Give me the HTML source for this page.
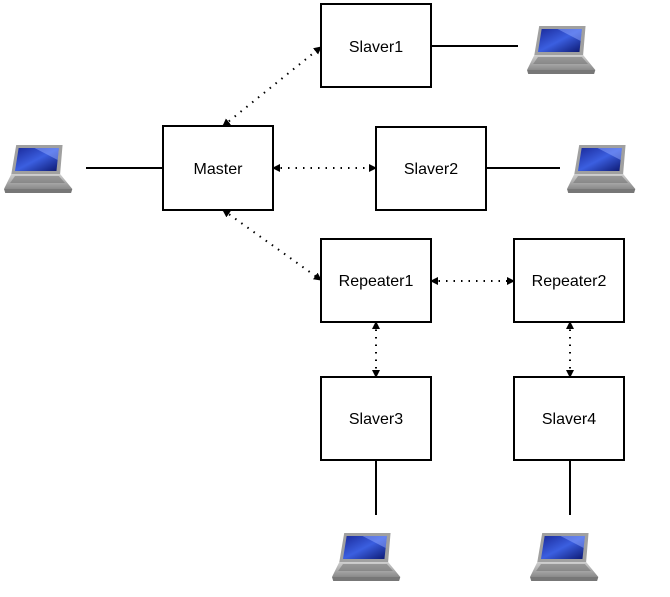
<!DOCTYPE html>
<html><head><style>
body{margin:0;background:#fff;width:670px;height:592px;overflow:hidden;font-family:"Liberation Sans",sans-serif}
</style></head><body>
<svg width="670" height="592" xmlns="http://www.w3.org/2000/svg">
<defs>
<marker id="a" markerWidth="8" markerHeight="8" refX="7" refY="4" orient="auto-start-reverse" markerUnits="userSpaceOnUse"><path d="M0,0 L8,4 L0,8z" fill="#000"/></marker>
<linearGradient id="scr" x1="0" y1="0" x2="1" y2="1"><stop offset="0" stop-color="#1a2a9a"/><stop offset="0.5" stop-color="#3b5fe0"/><stop offset="1" stop-color="#0c1870"/></linearGradient>
<linearGradient id="base" x1="0" y1="0" x2="0" y2="1"><stop offset="0" stop-color="#d0d0d0"/><stop offset="1" stop-color="#8a8a8a"/></linearGradient>
<g id="lap">
<g transform="scale(1.22,1)">
<path d="M10,0 L48,0 L46,29 L6,29 Z" fill="#a0a0a0"/>
<path d="M12,3 L45,3 L43,26 L9,26 Z" fill="url(#scr)"/>
<path d="M25,3 L45,3 L44,15 Z" fill="#8fa8ff" opacity="0.5"/>
<path d="M6,29 L46,29 L56,44 L0,44 Z" fill="url(#base)"/>
<path d="M9,31 L45,31 L50,38 L5,38 Z" fill="#6a6a6a" opacity="0.5"/>
<path d="M0,44 L56,44 L55,48 L1,48 Z" fill="#777"/>
</g>
</g>
</defs>
<g fill="#fff" stroke="#000" stroke-width="2">
<rect x="163" y="126" width="110" height="84"/>
<rect x="321" y="4" width="110" height="83"/>
<rect x="376" y="127" width="110" height="83"/>
<rect x="321" y="239" width="110" height="83"/>
<rect x="514" y="239" width="110" height="83"/>
<rect x="321" y="377" width="110" height="83"/>
<rect x="514" y="377" width="110" height="83"/>
</g>
<g font-size="16" text-anchor="middle" fill="#000">
<text x="218" y="174">Master</text>
<text x="376" y="52">Slaver1</text>
<text x="431" y="174">Slaver2</text>
<text x="376" y="286">Repeater1</text>
<text x="569" y="286">Repeater2</text>
<text x="376" y="424">Slaver3</text>
<text x="569" y="424">Slaver4</text>
</g>
<g stroke="#000" stroke-width="2">
<line x1="86" y1="168" x2="163" y2="168"/>
<line x1="431" y1="46" x2="518" y2="46"/>
<line x1="486" y1="168" x2="560" y2="168"/>
<line x1="376" y1="460" x2="376" y2="515"/>
<line x1="570" y1="460" x2="570" y2="515"/>
</g>
<g stroke="#000" stroke-width="2" stroke-dasharray="1.5,6" fill="none" marker-start="url(#a)" marker-end="url(#a)">
<line x1="223" y1="126" x2="321" y2="47"/>
<line x1="273" y1="168" x2="376" y2="168"/>
<line x1="223" y1="210" x2="321" y2="280"/>
<line x1="431" y1="281" x2="514" y2="281"/>
<line x1="376" y1="322" x2="376" y2="377"/>
<line x1="570" y1="322" x2="570" y2="377"/>
</g>
<use href="#lap" x="4" y="145"/>
<use href="#lap" x="527" y="26"/>
<use href="#lap" x="567" y="145"/>
<use href="#lap" x="332" y="533"/>
<use href="#lap" x="530" y="533"/>
</svg>
</body></html>
